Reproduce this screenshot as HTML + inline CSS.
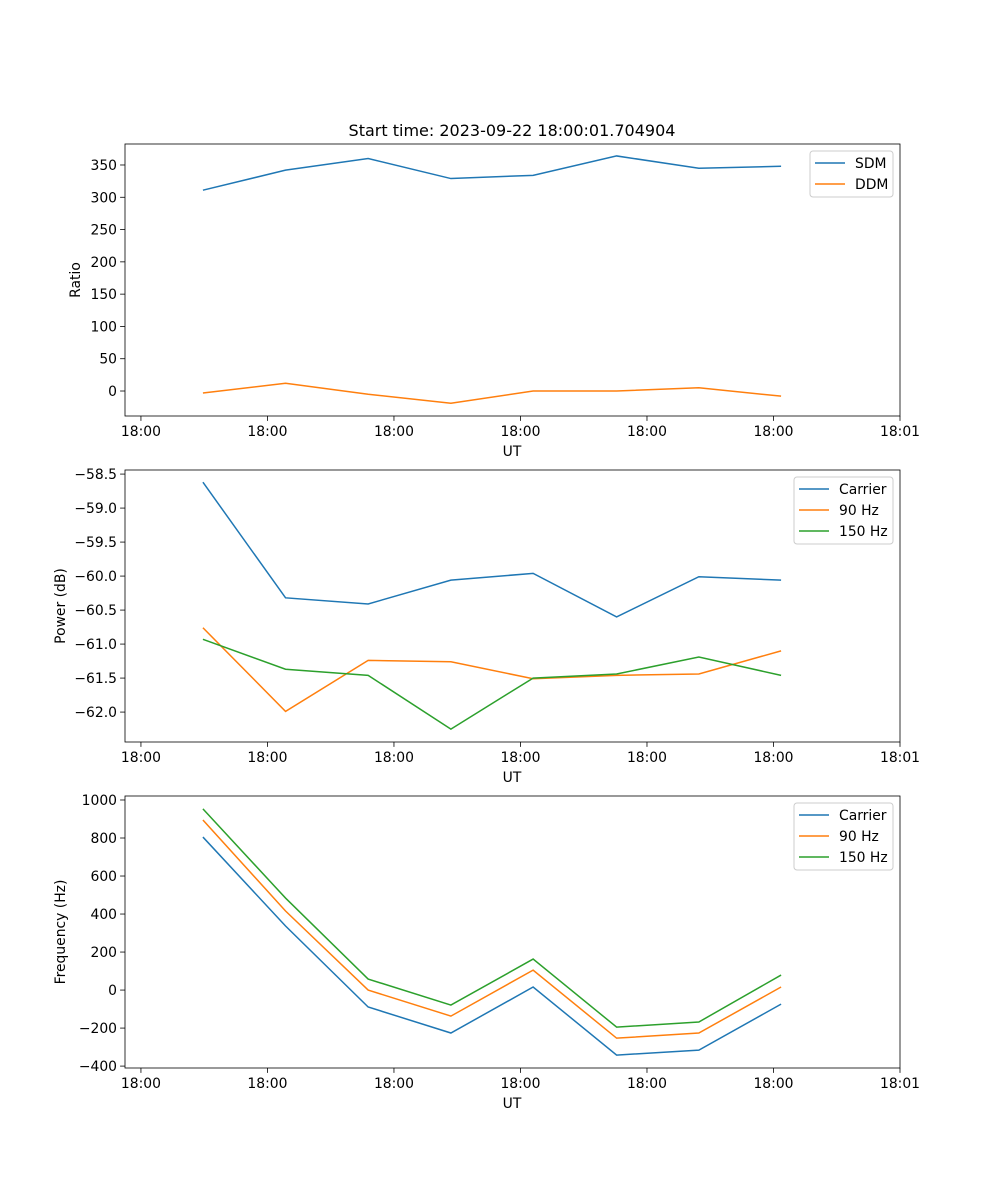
<!DOCTYPE html>
<html><head><meta charset="utf-8"><style>
body{margin:0;background:#fff}
svg{display:block;font-family:"DejaVu Sans","Liberation Sans",sans-serif}
</style></head><body>
<svg id="fig" width="1000" height="1200" xmlns="http://www.w3.org/2000/svg">
<text x="512" y="136" font-size="16" text-anchor="middle">Start time: 2023-09-22 18:00:01.704904</text>
</svg>
<script>
// Times in seconds after 18:00:00
const times = [4.9, 11.43, 17.96, 24.5, 31.0, 37.6, 44.1, 50.6];
const xTickVals = [0, 10, 20, 30, 40, 50, 60];
const xTickLabels = ["18:00","18:00","18:00","18:00","18:00","18:00","18:01"];

const sdm = [311, 342, 360, 329, 334, 364, 345, 348];
const ddm = [-3, 12, -5, -19, 0, 0, 5, -8];
const ratioTicks = [0, 50, 100, 150, 200, 250, 300, 350];

const powerCarrier = [-58.62, -60.32, -60.41, -60.06, -59.96, -60.60, -60.01, -60.06];
const power90 = [-60.76, -61.99, -61.24, -61.26, -61.51, -61.46, -61.44, -61.10];
const power150 = [-60.93, -61.37, -61.46, -62.25, -61.50, -61.44, -61.19, -61.46];
const powerTicks = [-62.0, -61.5, -61.0, -60.5, -60.0, -59.5, -59.0, -58.5];

const freqCarrier = [805, 337, -89, -226, 16, -342, -316, -74];
const freq90 = [895, 416, 0, -137, 105, -253, -226, 16];
const freq150 = [953, 484, 58, -79, 163, -195, -168, 79];
const freqTicks = [-400, -200, 0, 200, 400, 600, 800, 1000];

const NS = "http://www.w3.org/2000/svg";
const svg = document.getElementById("fig");
function el(tag, attrs, parent) {
  const e = document.createElementNS(NS, tag);
  for (const k in attrs) e.setAttribute(k, attrs[k]);
  (parent || svg).appendChild(e);
  return e;
}
const L = 125, R = 900, xmin = -1.26, xmax = 60;
const xs = v => L + (v - xmin) / (xmax - xmin) * (R - L);
const C = ["#1f77b4", "#ff7f0e", "#2ca02c"];

function panel(name, top, ymin, ymax, ticks, fmt, ylabel, series, names, legendX, legendW) {
  const bot = top + 272;
  const ys = v => bot - (v - ymin) / (ymax - ymin) * 272;
  const g = el("g", {});
  
  
  series.forEach((s, i) => {
    const p = el("polyline", {points: s.map((v, j) => xs(times[j]) + "," + ys(v)).join(" "), fill: "none", stroke: C[i], "stroke-width": 1.5}, g);
    
    
  });
  const frame = el("rect", {x: L, y: top, width: R - L, height: 272, fill: "none", stroke: "#000", "stroke-width": 0.8}, g);
  
  
  xTickVals.forEach((v, i) => {
    const x = xs(v);
    el("line", {x1: x, x2: x, y1: bot, y2: bot + 4.9, stroke: "#000", "stroke-width": 0.8}, g);
    const t = el("text", {x: x, y: bot + 20, "font-size": 13.9, "text-anchor": "middle"}, g);
    t.textContent = xTickLabels[i];
    
    
  });
  ticks.forEach(v => {
    const y = ys(v);
    el("line", {x1: L - 4.9, x2: L, y1: y, y2: y, stroke: "#000", "stroke-width": 0.8}, g);
    const t = el("text", {x: L - 8, y: y + 5, "font-size": 13.9, "text-anchor": "end"}, g);
    t.textContent = fmt(v);
    
    
  });
  const xl = el("text", {x: 512, y: bot + 40, "font-size": 13.9, "text-anchor": "middle"}, g);
  xl.textContent = "UT";
  
  
  const yx = name === "ratio" ? 80 : 65;
  const yl = el("text", {x: yx, y: top + 136, "font-size": 13.9, "text-anchor": "middle", transform: "rotate(-90 " + yx + " " + (top + 136) + ")"}, g);
  yl.textContent = ylabel;
  
  
  const lg = el("g", {}, g);
  
  
  el("rect", {x: legendX, y: top + 7, width: legendW, height: 21 * names.length + 4, rx: 3, fill: "#fff", stroke: "#ccc", "stroke-width": 1}, lg);
  names.forEach((n, i) => {
    const y = top + 19 + 21 * i;
    el("line", {x1: legendX + 5, x2: legendX + 35, y1: y, y2: y, stroke: C[i], "stroke-width": 1.5}, lg);
    const t = el("text", {x: legendX + 45, y: y + 5, "font-size": 13.9}, lg);
    t.textContent = n;
    
    
  });
}
panel("ratio", 144, -38.7, 382.5, ratioTicks, v => v.toString().replace("-", "\u2212"), "Ratio", [sdm, ddm], ["SDM", "DDM"], 810, 83);
panel("power", 470, -62.44, -58.44, powerTicks, v => v.toFixed(1).replace("-", "\u2212"), "Power (dB)", [powerCarrier, power90, power150], ["Carrier", "90 Hz", "150 Hz"], 794, 99);
panel("frequency", 796, -410, 1021, freqTicks, v => v.toString().replace("-", "\u2212"), "Frequency (Hz)", [freqCarrier, freq90, freq150], ["Carrier", "90 Hz", "150 Hz"], 794, 99);
</script>
</body></html>
